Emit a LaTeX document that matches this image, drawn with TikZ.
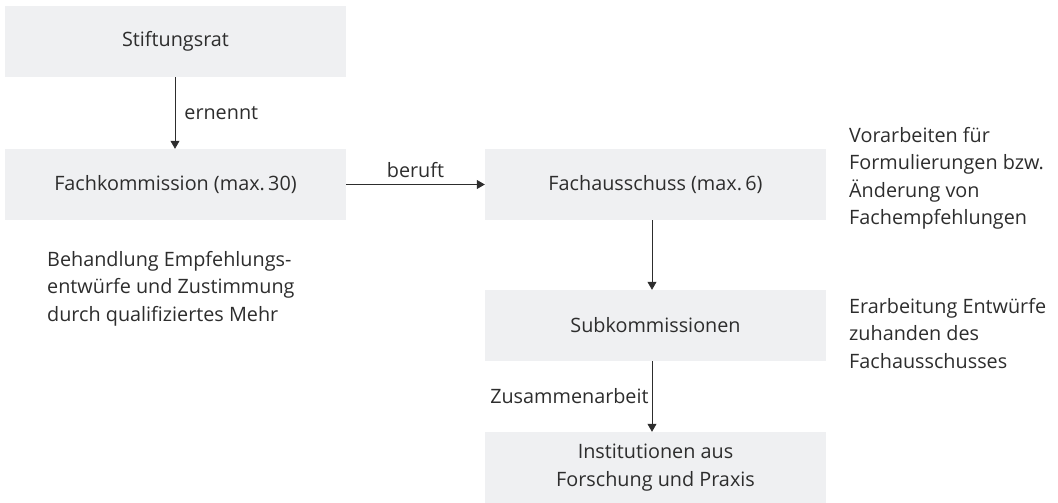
\documentclass[tikz,border=0pt]{standalone}
\usepackage{fontspec}
\setmainfont{Open Sans}
\usetikzlibrary{arrows.meta}
\definecolor{boxgray}{RGB}{239,240,242}
\definecolor{txt}{RGB}{45,45,45}
\begin{document}
\begin{tikzpicture}[x=1pt,y=-1pt,
  every node/.style={text=txt,font=\fontsize{19.8}{27.5}\selectfont},
  orgbox/.style={fill=boxgray,minimum width=341pt,minimum height=71pt,inner sep=0pt,align=center},
  desc/.style={align=left,inner sep=0pt,anchor=north west},
  conn/.style={draw=txt,line width=0.8pt,-{Triangle[length=8pt,width=9pt]}}]
\useasboundingbox (0,0) rectangle (1058,503);
\node[orgbox] (stift) at (175.5,41.5) {Stiftungsrat};
\node[orgbox] (fachk) at (175.5,184.5) {Fachkommission (max.\,30)};
\node[orgbox] (fachaus) at (655.5,184.5) {Fachausschuss (max.\,6)};
\node[orgbox] (subk) at (655.5,325.5) {Subkommissionen};
\node[orgbox] (inst) at (655.5,467.5) {Institutionen aus\\Forschung und Praxis};
\draw[conn] ([xshift=-0.5pt]stift.south) -- node[right=9pt,inner sep=0pt] (l1) {ernennt} ([xshift=-0.5pt]fachk.north);
\draw[conn] (fachk.east) -- node[above=6pt,inner sep=0pt] (l2) {beruft} (fachaus.west);
\draw[conn] ([xshift=-3.5pt]fachaus.south) -- ([xshift=-3.5pt]subk.north);
\draw[conn] ([xshift=-3.5pt]subk.south) -- node[left=3pt,inner sep=0pt] (l3) {Zusammenarbeit} ([xshift=-3.5pt]inst.north);
\node[desc] (d1) at (47,251) {Behandlung Empfehlungs-\\entwürfe und Zustimmung\\durch qualifiziertes Mehr};
\node[desc] (d2) at (849,127) {Vorarbeiten für\\Formulierungen bzw.\\Änderung von\\Fachempfehlungen};
\node[desc] (d3) at (849,298) {Erarbeitung Entwürfe\\zuhanden des\\Fachausschusses};
\end{tikzpicture}
\end{document}
